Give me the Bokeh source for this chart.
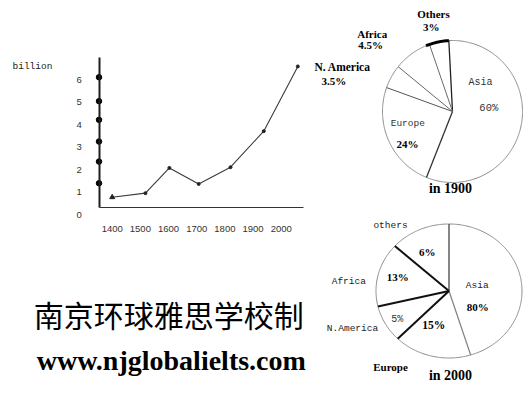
import numpy as np
from bokeh.plotting import figure
from bokeh.models import Range1d, LinearAxis, FixedTicker
from bokeh.layouts import row, column
from bokeh.core.properties import value
from bokeh.embed import file_html
from bokeh.resources import INLINE

# ---------------- data ----------------
YEARS = [1400, 1518, 1603, 1707, 1820, 1938, 2059]
POPULATION = [0.78, 0.96, 2.08, 1.37, 2.11, 3.71, 6.58]
AXIS_DOTS = [6.10, 5.04, 4.21, 3.25, 2.36, 1.40]
X_TICKS = [1400, 1500, 1600, 1700, 1800, 1900, 2000]
Y_TICKS = [0, 1, 2, 3, 4, 5, 6]
Y_UNIT = "billion"

REGIONS_1900 = ["Asia", "Europe", "N. America", "Africa", "Others"]
SHARE_1900_DRAWN = [56.9, 24.4, 5.4, 8.8, 4.5]
LABEL_1900 = ["60%", "24%", "3.5%", "4.5%", "3%"]
TITLE_1900 = "in 1900"

REGIONS_2000 = ["Asia", "Europe", "N.America", "Africa", "others"]
SHARE_2000_DRAWN = [45.2, 17.2, 8.9, 15.4, 13.3]
LABEL_2000 = ["80%", "15%", "5%", "13%", "6%"]
TITLE_2000 = "in 2000"

CAPTION_CN = "南京环球雅思学校制"
CAPTION_URL = "www.njglobalielts.com"

SERIF = value("Liberation Serif")
MONO = value("Liberation Mono")

# ---------------- line chart (left panel) ----------------
WL, H = 310, 396
PX_1400, PX_PER_YEAR = 111.7, 0.2817
PY_0, PX_PER_UNIT = 214.3, 22.55


def yr(px):
    return 1400 + (px - PX_1400) / PX_PER_YEAR


def val(py):
    return (PY_0 - py) / PX_PER_UNIT


def base_fig(w, h, xr, yrng):
    f = figure(width=w, height=h, x_range=xr, y_range=yrng,
               output_backend="svg", toolbar_location=None,
               x_axis_location=None, y_axis_location=None,
               min_border=0, min_border_left=0, min_border_right=0,
               min_border_top=0, min_border_bottom=0,
               outline_line_color=None, background_fill_color="white",
               border_fill_color="white")
    f.grid.visible = False
    return f


p = base_fig(WL, H, Range1d(yr(0), yr(WL)), Range1d(val(H), val(0)))

common = dict(major_tick_line_color=None, minor_tick_line_color=None,
              major_tick_in=0, major_tick_out=0,
              major_label_text_font="Liberation Sans",
              major_label_text_font_size="9.5px",
              major_label_text_color="#333333")

yax = LinearAxis(fixed_location=yr(99.3), ticker=FixedTicker(ticks=Y_TICKS),
                 axis_line_color=None, major_label_standoff=18, **common)
p.add_layout(yax, "left")

yline = LinearAxis(fixed_location=yr(98.5), bounds=(val(206.7), val(56.7)),
                   ticker=FixedTicker(ticks=[]), axis_line_color="#1e1e1e",
                   axis_line_width=2, **common)
p.add_layout(yline, "left")

xax = LinearAxis(fixed_location=val(206.7), bounds=(yr(99.3), yr(303.3)),
                 ticker=FixedTicker(ticks=X_TICKS), axis_line_color="#333333",
                 axis_line_width=1, major_label_standoff=19, **common)
p.add_layout(xax, "below")

p.line(YEARS, POPULATION, line_color="#3a3a3a", line_width=1.1)
p.scatter(YEARS[:1], POPULATION[:1], marker="triangle", size=5, color="#222222")
p.scatter(YEARS[1:], POPULATION[1:], size=3, color="#222222")
p.scatter([yr(98.5)] * len(AXIS_DOTS), AXIS_DOTS, size=5.5, color="black")

p.text(x=[yr(12)], y=[val(66)], text=[Y_UNIT], text_align="left",
       text_baseline="middle", text_font=MONO, text_font_size="9.5px",
       text_color="#222222")
p.text(x=[yr(168.3)], y=[val(313.3)], text=[CAPTION_CN], text_align="center",
       text_baseline="middle", text_font=value("Noto Sans CJK SC"),
       text_font_size="30px", text_color="black")
p.text(x=[yr(170.8)], y=[val(360)], text=[CAPTION_URL], text_align="center",
       text_baseline="alphabetic", text_font=SERIF, text_font_style="bold",
       text_font_size="28px", text_color="black")

# ---------------- pies (right column) ----------------
XOFF = WL


def make_pie(w, h, cx, cy, rx, ry, shares, start_cw, yoff, edge_styles, outline):
    lx, ly = cx - XOFF, cy - yoff
    f = base_fig(w, h, Range1d(-lx / rx, (w - lx) / rx),
                 Range1d((ly - h) / ry, ly / ry))
    tot = float(sum(shares))
    bounds = start_cw + 360.0 * np.concatenate([[0.0], np.cumsum(shares)]) / tot
    xs, ys = [], []
    for a0, a1 in zip(bounds[:-1], bounds[1:]):
        t = np.radians(90.0 - np.linspace(a0, a1, 80))
        xs.append(np.concatenate([[0.0], np.cos(t)]))
        ys.append(np.concatenate([[0.0], np.sin(t)]))
    f.patches(xs, ys, fill_color="white", line_color=None)
    tt = np.radians(np.linspace(0, 360, 400))
    f.line(np.cos(tt), np.sin(tt), line_color=outline, line_width=1)
    for b, (col, lw) in zip(bounds[:-1], edge_styles):
        t = np.radians(90.0 - b)
        f.line([0, np.cos(t)], [0, np.sin(t)], line_color=col, line_width=lw)

    def pos(px, py):
        return (px - cx) / rx, (cy - py) / ry

    return f, bounds, pos


def put(f, pos, px, py, txt, font, size, bold=False, color="black"):
    x, y = pos(px, py)
    f.text(x=[x], y=[y], text=[txt], text_align="center", text_baseline="middle",
           text_font=font, text_font_size=size,
           text_font_style="bold" if bold else "normal", text_color=color)


# pie 1900
styles1 = [("#222222", 1.3), ("#333333", 1.3), ("#555555", 1.0),
           ("#666666", 1.0), ("#6a6a6a", 1.0)]
pie1, b1, pos1 = make_pie(219, 200, 452, 111, 70, 71, SHARE_1900_DRAWN, -3.0,
                          0, styles1, "#8c8c8c")
ta = np.radians(90.0 - np.linspace(b1[4] - 3, b1[5], 30))
pie1.line(np.cos(ta), np.sin(ta), line_color="black", line_width=3)

put(pie1, pos1, 433, 13, REGIONS_1900[4], SERIF, "11px", True)
put(pie1, pos1, 430.7, 26.7, LABEL_1900[4], SERIF, "11px", True)
put(pie1, pos1, 371.7, 33.3, REGIONS_1900[3], SERIF, "11px", True)
put(pie1, pos1, 370, 44.3, LABEL_1900[3], SERIF, "11px", True)
put(pie1, pos1, 342, 66.7, REGIONS_1900[2], SERIF, "11.5px", True)
put(pie1, pos1, 333.3, 80, LABEL_1900[2], SERIF, "11px", True)
put(pie1, pos1, 480, 81.7, REGIONS_1900[0], MONO, "10px", False, "#333333")
put(pie1, pos1, 488.3, 107.3, LABEL_1900[0], MONO, "10.5px", False, "#333333")
put(pie1, pos1, 407.3, 123.3, REGIONS_1900[1], MONO, "9.5px", False, "#333333")
put(pie1, pos1, 407, 143.3, LABEL_1900[1], SERIF, "11px", True)
put(pie1, pos1, 450, 188.3, TITLE_1900, SERIF, "14px", True)

# pie 2000
styles2 = [("#444444", 1.3), ("#808080", 1.2), ("#111111", 2.0),
           ("#111111", 2.0), ("#111111", 2.0)]
pie2, b2, pos2 = make_pie(219, 196, 448.5, 290.5, 73, 67, SHARE_2000_DRAWN, 0.0,
                          200, styles2, "#8c8c8c")

put(pie2, pos2, 390, 225, REGIONS_2000[4], MONO, "9.5px", False, "#222222")
put(pie2, pos2, 426.7, 251, LABEL_2000[4], SERIF, "11px", True)
put(pie2, pos2, 348.3, 281, REGIONS_2000[3], MONO, "9.5px", False, "#222222")
put(pie2, pos2, 397.3, 276.7, LABEL_2000[3], SERIF, "11px", True)
put(pie2, pos2, 476.7, 285, REGIONS_2000[0], MONO, "9.5px", False, "#222222")
put(pie2, pos2, 477.3, 306.7, LABEL_2000[0], SERIF, "11px", True)
put(pie2, pos2, 396.7, 319, LABEL_2000[2], MONO, "10px", False, "#333333")
put(pie2, pos2, 433.3, 324.3, LABEL_2000[1], SERIF, "11.5px", True)
put(pie2, pos2, 352, 328.3, REGIONS_2000[2], MONO, "9.5px", False, "#222222")
put(pie2, pos2, 390, 366.7, REGIONS_2000[1], SERIF, "11px", True)
put(pie2, pos2, 450, 375, TITLE_2000, SERIF, "14px", True)

layout = row(p, column(pie1, pie2, spacing=0), spacing=0)

with open("out.html", "w") as fh:
    fh.write(file_html(layout, INLINE))
